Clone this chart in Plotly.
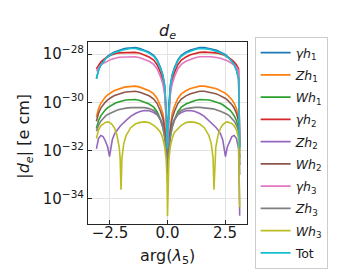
import numpy as np
import plotly.graph_objects as go

# arg(lambda5) sample positions
phi = [-3.09, -3.0, -2.9, -2.8, -2.7, -2.6, -2.52, -2.45, -2.4, -2.3, -2.2, -2.1, -2.06, -2.02, -1.98,
       -1.9, -1.8, -1.6, -1.4, -1.2, -1.0, -0.8, -0.6, -0.45, -0.3, -0.2, -0.12, -0.06, -0.02,
       0.0,
       0.02, 0.06, 0.12, 0.2, 0.3, 0.45, 0.6, 0.8, 1.0, 1.2, 1.4, 1.6, 1.8, 1.9, 1.98,
       2.02, 2.06, 2.1, 2.2, 2.3, 2.4, 2.45, 2.52, 2.6, 2.7, 2.8, 2.9, 3.0, 3.09, 3.14]

# log10 |d_e| [e cm] for each contribution
gamma_h1 = [-29.02, -28.67, -28.44, -28.29, -28.18, -28.09, -28.03, -27.99, -27.96, -27.91, -27.87, -27.83, -27.82, -27.81, -27.80,
            -27.78, -27.76, -27.73, -27.73, -27.77, -27.83, -27.92, -28.05, -28.24, -28.57, -28.87, -29.32, -30.17, -31.12,
            -31.90,
            -31.12, -30.17, -29.32, -28.87, -28.57, -28.24, -28.05, -27.92, -27.83, -27.77, -27.73, -27.73, -27.76, -27.78, -27.80,
            -27.81, -27.82, -27.83, -27.87, -27.91, -27.96, -27.99, -28.03, -28.09, -28.18, -28.29, -28.44, -28.67, -29.02, -31.85]
Z_h1 = [-30.62, -30.27, -30.04, -29.89, -29.78, -29.69, -29.63, -29.59, -29.56, -29.51, -29.47, -29.43, -29.42, -29.41, -29.40,
        -29.38, -29.36, -29.33, -29.33, -29.37, -29.43, -29.52, -29.65, -29.84, -30.17, -30.47, -30.92, -31.50, -31.85,
        -32.00,
        -31.85, -31.50, -30.92, -30.47, -30.17, -29.84, -29.65, -29.52, -29.43, -29.37, -29.33, -29.33, -29.36, -29.38, -29.40,
        -29.41, -29.42, -29.43, -29.47, -29.51, -29.56, -29.59, -29.63, -29.69, -29.78, -29.89, -30.04, -30.27, -30.62, -32.00]
W_h1 = [-31.08, -30.76, -30.56, -30.42, -30.31, -30.22, -30.17, -30.13, -30.10, -30.05, -30.01, -29.97, -29.96, -29.95, -29.94,
        -29.92, -29.90, -29.88, -29.88, -29.92, -29.98, -30.07, -30.20, -30.39, -30.72, -31.02, -31.45, -31.90, -32.10,
        -32.20,
        -32.10, -31.90, -31.45, -31.02, -30.72, -30.39, -30.20, -30.07, -29.98, -29.92, -29.88, -29.88, -29.90, -29.92, -29.94,
        -29.95, -29.96, -29.97, -30.01, -30.05, -30.10, -30.13, -30.17, -30.22, -30.31, -30.42, -30.56, -30.76, -31.08, -32.30]
gamma_h2 = [-28.62, -28.45, -28.33, -28.24, -28.17, -28.11, -28.07, -28.04, -28.02, -27.99, -27.97, -27.95, -27.95, -27.94, -27.94,
            -27.93, -27.92, -27.92, -27.93, -27.97, -28.03, -28.12, -28.25, -28.44, -28.77, -29.07, -29.52, -30.37, -31.30,
            -31.90,
            -31.30, -30.37, -29.52, -29.07, -28.77, -28.44, -28.25, -28.12, -28.03, -27.97, -27.93, -27.92, -27.92, -27.93, -27.94,
            -27.94, -27.95, -27.95, -27.97, -27.99, -28.02, -28.04, -28.07, -28.11, -28.17, -28.24, -28.33, -28.45, -28.62, -31.80]
Z_h2 = [-31.93, -31.50, -31.37, -31.42, -31.60, -31.85, -32.25, -31.80, -31.55, -31.30, -31.15, -31.03, -30.99, -30.95, -30.91,
        -30.84, -30.75, -30.58, -30.46, -30.38, -30.34, -30.35, -30.42, -30.52, -30.72, -30.95, -31.30, -31.80, -32.20,
        -32.10,
        -32.20, -31.80, -31.30, -30.95, -30.72, -30.52, -30.42, -30.35, -30.34, -30.38, -30.46, -30.58, -30.75, -30.84, -30.91,
        -30.95, -30.99, -31.03, -31.15, -31.30, -31.55, -31.80, -32.25, -31.85, -31.60, -31.42, -31.37, -31.50, -31.93, -34.70]
W_h2 = [-30.78, -30.46, -30.24, -30.10, -29.99, -29.90, -29.84, -29.80, -29.77, -29.72, -29.68, -29.64, -29.63, -29.62, -29.61,
        -29.59, -29.57, -29.54, -29.54, -29.58, -29.64, -29.73, -29.86, -30.05, -30.38, -30.68, -31.13, -31.80, -32.50,
        -33.30,
        -32.50, -31.80, -31.13, -30.68, -30.38, -30.05, -29.86, -29.73, -29.64, -29.58, -29.54, -29.54, -29.57, -29.59, -29.61,
        -29.62, -29.63, -29.64, -29.68, -29.72, -29.77, -29.80, -29.84, -29.90, -29.99, -30.10, -30.24, -30.46, -30.78, -32.60]
gamma_h3 = [-28.70, -28.56, -28.46, -28.39, -28.33, -28.28, -28.25, -28.22, -28.20, -28.17, -28.15, -28.13, -28.13, -28.12, -28.12,
            -28.11, -28.10, -28.10, -28.11, -28.15, -28.21, -28.30, -28.43, -28.62, -28.95, -29.25, -29.70, -30.50, -31.40,
            -31.90,
            -31.40, -30.50, -29.70, -29.25, -28.95, -28.62, -28.43, -28.30, -28.21, -28.15, -28.11, -28.10, -28.10, -28.11, -28.12,
            -28.12, -28.13, -28.13, -28.15, -28.17, -28.20, -28.22, -28.25, -28.28, -28.33, -28.39, -28.46, -28.56, -28.70, -31.80]
Z_h3 = [-31.20, -30.95, -30.78, -30.66, -30.57, -30.50, -30.46, -30.43, -30.41, -30.37, -30.33, -30.30, -30.29, -30.28, -30.27,
        -30.26, -30.24, -30.22, -30.21, -30.21, -30.22, -30.26, -30.34, -30.47, -30.75, -31.05, -31.45, -32.00, -32.50,
        -32.80,
        -32.50, -32.00, -31.45, -31.05, -30.75, -30.47, -30.34, -30.26, -30.22, -30.21, -30.21, -30.22, -30.24, -30.26, -30.27,
        -30.28, -30.29, -30.30, -30.33, -30.37, -30.41, -30.43, -30.46, -30.50, -30.57, -30.66, -30.78, -30.95, -31.20, -33.00]
W_h3 = [-31.50, -31.15, -30.97, -30.88, -30.83, -30.81, -30.83, -30.88, -30.93, -31.08, -31.35, -31.85, -32.30, -33.62, -32.30,
        -31.70, -31.38, -31.05, -30.90, -30.83, -30.81, -30.84, -30.95, -31.08, -31.25, -31.50, -31.85, -32.35, -33.20,
        -34.72,
        -33.20, -32.35, -31.85, -31.50, -31.25, -31.08, -30.95, -30.84, -30.81, -30.83, -30.90, -31.05, -31.38, -31.70, -32.30,
        -33.62, -32.30, -31.85, -31.35, -31.08, -30.93, -30.88, -30.83, -30.81, -30.83, -30.88, -30.97, -31.15, -31.50, -34.35]
total = [-29.02, -28.68, -28.46, -28.31, -28.21, -28.12, -28.06, -28.02, -27.99, -27.94, -27.90, -27.87, -27.86, -27.85, -27.84,
         -27.82, -27.80, -27.77, -27.77, -27.81, -27.87, -27.96, -28.09, -28.28, -28.60, -28.90, -29.35, -30.20, -31.15,
         -31.92,
         -31.15, -30.20, -29.35, -28.90, -28.60, -28.28, -28.09, -27.96, -27.87, -27.81, -27.77, -27.77, -27.80, -27.82, -27.84,
         -27.85, -27.86, -27.87, -27.90, -27.94, -27.99, -28.02, -28.06, -28.12, -28.21, -28.31, -28.46, -28.68, -29.02, -31.90]

labels = ["<i>γh</i><sub>1</sub>", "<i>Zh</i><sub>1</sub>", "<i>Wh</i><sub>1</sub>",
          "<i>γh</i><sub>2</sub>", "<i>Zh</i><sub>2</sub>", "<i>Wh</i><sub>2</sub>",
          "<i>γh</i><sub>3</sub>", "<i>Zh</i><sub>3</sub>", "<i>Wh</i><sub>3</sub>", "Tot"]
series = [gamma_h1, Z_h1, W_h1, gamma_h2, Z_h2, W_h2, gamma_h3, Z_h3, W_h3, total]
colors = ["#1f77b4", "#ff7f0e", "#2ca02c", "#d62728", "#9467bd",
          "#8c564b", "#e377c2", "#7f7f7f", "#bcbd22", "#17becf"]

x_ticks = [-2.5, 0.0, 2.5]
x_ticktext = ["−2.5", "0.0", "2.5"]
y_ticks = [1e-34, 1e-32, 1e-30, 1e-28]
y_ticktext = ["10<sup>−34</sup>", "10<sup>−32</sup>", "10<sup>−30</sup>", "10<sup>−28</sup>"]

FONT = "DejaVu Sans"
fig = go.Figure()
for i, (lab, s, c) in enumerate(zip(labels, series, colors)):
    fig.add_trace(go.Scatter(x=phi, y=10.0 ** np.array(s), mode="lines", name=lab,
                             legendgroup=f"g{i}",
                             line=dict(color=c, width=1.6)))

axis_common = dict(showline=True, mirror=True, linecolor="#262626", linewidth=1,
                   ticks="inside", ticklen=4, tickcolor="#262626",
                   showgrid=True, gridcolor="#e3e3e3", gridwidth=1, zeroline=False,
                   tickfont=dict(family=FONT, size=15, color="#1a1a1a"))
fig.update_xaxes(range=[-3.456, 3.456], tickvals=x_ticks, ticktext=x_ticktext, **axis_common)
fig.update_yaxes(type="log", range=[-35.04, -27.5], tickvals=y_ticks, ticktext=y_ticktext, **axis_common)
try:
    fig.update_xaxes(ticklabelstandoff=-5)
except Exception:
    pass

legend = dict(x=1.048, xanchor="left", y=0.991, yanchor="top",
              bgcolor="white", bordercolor="#cccccc", borderwidth=1,
              font=dict(family=FONT, size=12.5, color="#1a1a1a"),
              itemwidth=30, tracegroupgap=3.0)

# the page body adds an 8 px offset, so the figure is laid out 8 px smaller
fig.update_layout(
    width=332, height=261,
    margin=dict(l=80, r=93, t=34, b=45, pad=0),
    paper_bgcolor="white", plot_bgcolor="white",
    font=dict(family=FONT, color="#1a1a1a"),
    showlegend=True,
    legend=legend,
    annotations=[
        dict(text="<i>d</i><sub><i>e</i></sub>", x=0.5, y=1.055, xref="paper", yref="paper",
             xanchor="center", yanchor="middle", showarrow=False,
             font=dict(family=FONT, size=16, color="#1a1a1a")),
        dict(text="arg(<i>λ</i><sub>5</sub>)", x=0.5, y=-0.18, xref="paper", yref="paper",
             xanchor="center", yanchor="middle", showarrow=False,
             font=dict(family=FONT, size=16, color="#1a1a1a")),
        dict(text="|<i>d</i><sub><i>e</i></sub>| [e cm]", x=-0.396, y=0.48, xref="paper", yref="paper",
             xanchor="center", yanchor="middle", showarrow=False, textangle=-90,
             font=dict(family=FONT, size=16, color="#1a1a1a")),
    ],
)
try:
    fig.update_layout(legend_maxheight=260)
except Exception:
    fig.update_layout(legend_yref="container", legend_y=1 - 36 / 261)

fig.write_html("out.html")
